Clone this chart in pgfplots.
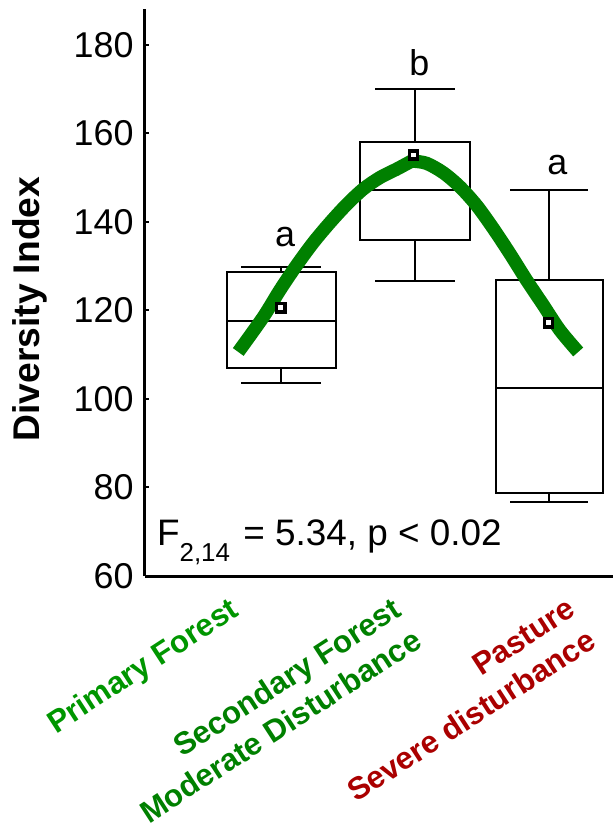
\documentclass[border=0pt]{standalone}
\usepackage{fontspec}
\setmainfont{Liberation Sans}
\usepackage{pgfplots}
\pgfplotsset{compat=1.18}
\definecolor{curvegreen}{RGB}{0,128,0}
\definecolor{labgreenA}{RGB}{0,150,0}
\definecolor{labgreenB}{RGB}{0,128,0}
\definecolor{labred}{RGB}{170,0,0}
\begin{document}
\begin{tikzpicture}
\path[use as bounding box] (-145bp,-253bp) rectangle (468bp,576bp);
\begin{axis}[
  at={(0,0)}, anchor=south west,
  scale only axis, width=468bp, height=566.7bp,
  xmin=-1.017, xmax=2.476, ymin=60, ymax=188,
  clip=false,
  unbounded coords=jump,
  axis x line=bottom, axis y line=left,
  axis line style={-, line width=3bp, black},
  ytick={60,80,...,180},
  /pgf/number format/assume math mode=true,
  yticklabel style={font=\fontsize{36}{40}\selectfont, xshift=-8bp},
  ytick style={line width=2bp, black},
  tick align=inside,
  major tick length=4bp,
  xtick={-0.149,1.065,2.363},
  xtick style={draw=none},
  xticklabels={{\textcolor{labgreenA}{Primary Forest}\\\mbox{}},
    {\textcolor{labgreenB}{Secondary Forest}\\\textcolor{labgreenB}{Moderate Disturbance}},
    {\textcolor{labred}{Pasture}\\\textcolor{labred}{Severe disturbance}}},
  xticklabel style={yshift=-70bp, rotate=33, anchor=base east, align=right, inner sep=0pt,
    font=\bfseries\fontsize{31.3}{37.8}\selectfont},
  ylabel={Diversity Index},
  ylabel style={at={(axis description cs:-0.226,0.471)}, anchor=base,
    font=\bfseries\fontsize{37.3}{44}\selectfont},
  boxst/.style={black, line width=2bp, line cap=rect},
]
% Primary Forest
\addplot[boxst] coordinates {(-0.407,106.9) (0.408,106.9) (0.408,128.6) (-0.407,128.6) (-0.407,106.9)};
\addplot[boxst] coordinates {(-0.407,117.6) (0.408,117.6) (nan,nan)
  (0,128.6) (0,129.9) (nan,nan) (-0.29,129.9) (0.29,129.9) (nan,nan)
  (0,106.9) (0,103.7) (nan,nan) (-0.29,103.7) (0.29,103.7)};
% Secondary Forest
\addplot[boxst] coordinates {(0.586,135.9) (1.408,135.9) (1.408,158.1) (0.586,158.1) (0.586,135.9)};
\addplot[boxst] coordinates {(0.586,147.1) (1.408,147.1) (nan,nan)
  (1.0,158.1) (1.0,170.1) (nan,nan) (0.71,170.1) (1.29,170.1) (nan,nan)
  (1.0,135.9) (1.0,126.7) (nan,nan) (0.71,126.7) (1.29,126.7)};
% Pasture
\addplot[boxst] coordinates {(1.600,78.8) (2.401,78.8) (2.401,126.9) (1.600,126.9) (1.600,78.8)};
\addplot[boxst] coordinates {(1.600,102.4) (2.401,102.4) (nan,nan)
  (2.0,126.9) (2.0,147.1) (nan,nan) (1.715,147.1) (2.285,147.1) (nan,nan)
  (2.0,78.8) (2.0,76.7) (nan,nan) (1.715,76.7) (2.285,76.7)};
% means
\addplot[only marks, mark=square*, mark size=4.1bp,
  mark options={fill=white, draw=black, line width=3.5bp}]
  coordinates {(-0.004,120.6) (0.988,155.1) (1.994,117.2)};
% fitted curve
\addplot[curvegreen, line width=13.3bp, smooth] coordinates {
  (-0.3209,110.6) (-0.1343,118.5) (-0.0097,124.6) (0.1149,130.2)
  (0.2388,135.3) (0.3634,139.8) (0.4881,143.9) (0.6119,147.4)
  (0.7366,150.0) (0.8612,151.9) (0.9604,153.5) (0.9828,153.7)
  (1.0851,153.2) (1.2090,151.1) (1.3336,147.9) (1.4582,143.7)
  (1.5821,138.5) (1.7067,132.8) (1.8313,126.8) (1.9552,121.2)
  (2.0799,115.5) (2.2164,110.6)};
\node[anchor=base, font=\fontsize{36}{40}\selectfont] at (axis cs:0.028,134.5) {a};
\node[anchor=base, font=\fontsize{36}{40}\selectfont] at (axis cs:1.03,173.1) {b};
\node[anchor=base, font=\fontsize{36}{40}\selectfont] at (axis cs:2.06,150.7) {a};
\node[anchor=base west, inner sep=0pt, font=\fontsize{37}{40}\selectfont] at (axis cs:-0.928,66.8)
  {F\raisebox{-16bp}{\fontsize{26}{28}\selectfont 2,14}\hspace{3bp} = 5.34, p < 0.02};
\end{axis}
\end{tikzpicture}
\end{document}
